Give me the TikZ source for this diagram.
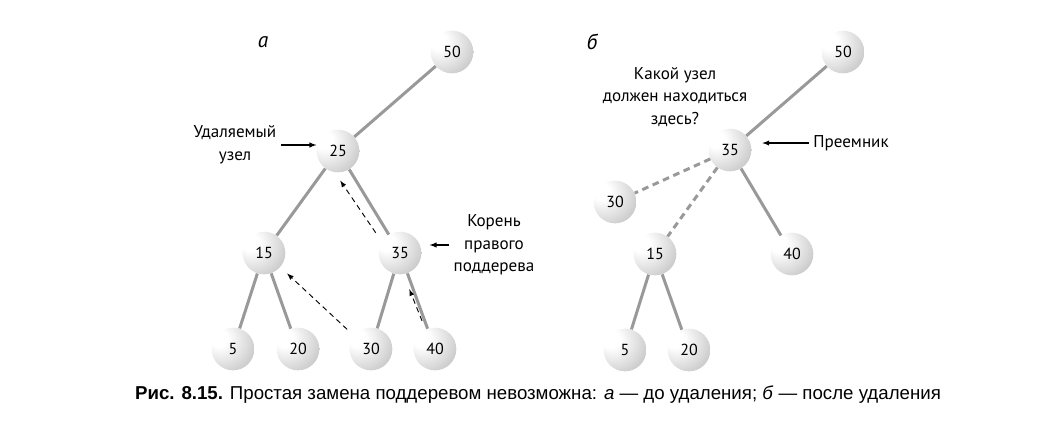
\documentclass[tikz,border=0pt]{standalone}
\usepackage{fontspec}
\setmainfont{PT Sans}
\newfontfamily\capfont[FakeStretch=1.0]{Liberation Sans}
\usetikzlibrary{positioning,calc}
\tikzset{>=latex}
\pgfdeclareradialshading{sphere}{\pgfpoint{-18bp}{14bp}}{%
  color(0bp)=(white); color(10bp)=(white); color(30bp)=(gray!28);
  color(52bp)=(gray!62); color(68bp)=(gray!80); color(100bp)=(gray!80)}
\tikzset{
  elem/.style={circle, minimum size=32pt, inner sep=0pt, shading=sphere,
    font=\fontsize{12}{13}\selectfont},
  link/.style={draw=black!40, line width=2.25pt},
  gone/.style={link, dash pattern=on 5pt off 3.5pt},
  move/.style={->, dash pattern=on 4pt off 3pt, line width=0.7pt},
  point/.style={->, line width=0.8pt},
  note/.style={align=center, font=\fontsize{12.8}{17}\selectfont},
  tag/.style={font=\fontsize{16}{18}\selectfont\itshape},
}
\begin{document}
\begin{tikzpicture}[x=0.75pt, y=-0.75pt, node distance=1cm, on grid]
          \useasboundingbox (0,0) rectangle (1045,426);

          \node[tag] (taga) at (263,42) {а};
          \node[tag] (tagb) at (592,42) {б};

          \node[elem] (n50a) at (452,52) {50};
          \node[elem, below left=74.25pt and 85.5pt of n50a] (n25a) {25};
          \node[elem, below left=76.5pt and 55.5pt of n25a] (n15a) {15};
          \node[elem, below right=76.5pt and 46.5pt of n25a] (n35a) {35};
          \node[elem, below left=72pt and 23.25pt of n15a] (n5a) {5};
          \node[elem, below right=72pt and 25.5pt of n15a] (n20a) {20};
          \node[elem, below left=72pt and 21.75pt of n35a] (n30a) {30};
          \node[elem, below right=72pt and 26.25pt of n35a] (n40a) {40};

          \draw[link] (n50a) -- (n25a);
          \draw[link] (n25a) -- (n15a);
          \draw[link] (n25a) -- (n35a);
          \draw[link] (n15a) -- (n5a);
          \draw[link] (n15a) -- (n20a);
          \draw[link] (n35a) -- (n30a);
          \draw[link] (n35a) -- (n40a);

          \draw[move, shorten <=8pt, shorten >=7.5pt] (n35a.148) -- (n25a.-99);
          \draw[move, shorten <=7pt, shorten >=7pt] (n30a.142) -- (n15a.-41);
          \draw[move, shorten <=7pt, shorten >=12pt] (n40a.116) -- (n35a.-81);

          \node[note] (dela) at (235,145) {Удаляемый\\узел};
          \node[note] (roota) at (494,245) {Корень\\правого\\поддерева};
          \draw[point] (dela.east) -- (dela.east -| n25a.west);
          \draw[point, shorten >=6pt] (roota.west) -- (roota.west -| n35a.east);

          \node[elem] (n50b) at (843,52) {50};
          \node[elem, below left=73.5pt and 84.75pt of n50b] (n35b) {35};
          \node[elem, below left=39pt and 86.25pt of n35b] (n30b) {30};
          \node[elem, below left=78pt and 56.25pt of n35b] (n15b) {15};
          \node[elem, below right=78pt and 46.5pt of n35b] (n40b) {40};
          \node[elem, below left=72pt and 22.5pt of n15b] (n5b) {5};
          \node[elem, below right=72pt and 25.5pt of n15b] (n20b) {20};

          \draw[link] (n50b) -- (n35b);
          \draw[link] (n35b) -- (n40b);
          \draw[link] (n15b) -- (n5b);
          \draw[link] (n15b) -- (n20b);
          \draw[gone] (n35b) -- (n30b);
          \draw[gone] (n35b) -- (n15b);

          \node[note] (askb) at (675,97) {Какой узел\\должен находиться\\здесь?};
          \node[note] (succb) at (851,143) {Преемник};
          \draw[point, shorten >=8pt] (succb.west) -- (succb.west -| n35b.east);

          \node[font=\capfont\fontsize{14}{16}\selectfont] (caption) at (538,395)
            {\textbf{Рис. 8.15.} Простая замена поддеревом невозможна: \textit{а} — до удаления; \textit{б} — после удаления};
        \end{tikzpicture}
\end{document}
